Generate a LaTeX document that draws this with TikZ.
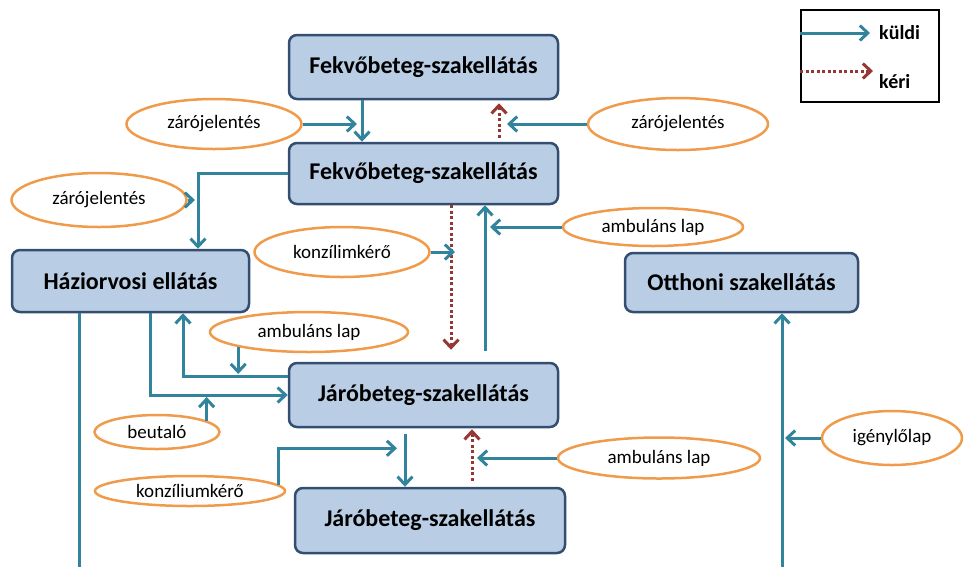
\documentclass[tikz,border=0pt]{standalone}
\usepackage{fontspec}
\setmainfont{Carlito}
\usetikzlibrary{arrows.meta,shapes.geometric}
\definecolor{kuldcol}{RGB}{49,132,155}
\definecolor{kercol}{RGB}{149,55,53}
\definecolor{boxfill}{RGB}{185,205,228}
\definecolor{boxline}{RGB}{52,78,114}
\definecolor{lapline}{RGB}{240,155,75}

\begin{document}
\begin{tikzpicture}[x=1pt,y=-1pt,>={Straight Barb[length=8pt,width=15pt]},
  box/.style={draw=boxline,fill=boxfill,line width=2.5pt,rounded corners=8pt,inner sep=0pt,font=\bfseries\fontsize{24}{28}\selectfont},
  lap/.style={ellipse,draw=lapline,fill=white,line width=2.5pt,inner sep=0pt,font=\fontsize{19}{22}\selectfont},
  kuld/.style={->,draw=kuldcol,line width=3pt},
  ker/.style={->,draw=kercol,line width=3pt,dash pattern=on 3pt off 2.5pt}]
  \useasboundingbox (0,0) rectangle (965,566);
  \node[box,minimum width=269,minimum height=64] (fekvoA) at (423.5,67) {Fekvőbeteg-szakellátás};
  \node[box,minimum width=269,minimum height=61] (fekvoB) at (423.5,173.5) {Fekvőbeteg-szakellátás};
  \node[box,minimum width=237,minimum height=62] (haziorvos) at (130.5,281) {Háziorvosi ellátás};
  \node[box,minimum width=269,minimum height=64] (jaroA) at (423.5,395) {Járóbeteg-szakellátás};
  \node[box,minimum width=270,minimum height=65] (jaroB) at (430,520.5) {Járóbeteg-szakellátás};
  \node[box,minimum width=233,minimum height=59] (otthoni) at (741.5,282.5) {Otthoni szakellátás};
  \node[lap,minimum width=175,minimum height=50] (zarA) at (214,124) {zárójelentés};
  \node[lap,minimum width=180,minimum height=52] (zarB) at (678,124) {zárójelentés};
  \node[lap,minimum width=175,minimum height=54] (zarC) at (99,200) {zárójelentés};
  \node[lap,minimum width=175,minimum height=50] (konzA) at (342,252) {konzílimkérő};
  \node[lap,minimum width=180,minimum height=38] (ambA) at (653,227) {ambuláns lap};
  \node[lap,minimum width=198,minimum height=40] (ambB) at (309,332) {ambuláns lap};
  \node[lap,minimum width=125,minimum height=34] (beut) at (157,432) {beutaló};
  \node[lap,minimum width=190,minimum height=30] (konzB) at (190,491) {konzíliumkérő};
  \node[lap,minimum width=202,minimum height=41] (ambC) at (659,458) {ambuláns lap};
  \node[lap,minimum width=140,minimum height=54] (igeny) at (892,438) {igénylőlap};
  \node[draw=black,line width=1.2pt,minimum width=138,minimum height=92,inner sep=0pt] (legend) at (870,56) {};
  \node[anchor=west,inner sep=1pt,font=\bfseries\fontsize{20}{24}\selectfont] (kuldi) at (878,33) {küldi};
  \node[anchor=west,inner sep=1pt,font=\bfseries\fontsize{20}{24}\selectfont] (keri) at (878,82) {kéri};
  \coordinate (kerimark) at ([yshift=11pt]keri.west);
  \draw[kuld,shorten >=8pt] (legend.west |- kuldi) -- (kuldi.west);
  \draw[ker,shorten >=5pt] (legend.west |- kerimark) -- (kerimark);
  \coordinate (fA) at ([xshift=-61.5pt]fekvoB.north);
  \draw[kuld] ([xshift=-61.5pt]fekvoA.south) -- (fA);
  \draw[kuld,shorten >=5pt] (zarA.east) -- (zarA.east -| fA);
  \coordinate (rB) at ([xshift=75.5pt]fekvoB.north);
  \draw[ker,shorten <=4pt,shorten >=3pt] (rB) -- ([xshift=75.5pt]fekvoA.south);
  \draw[kuld,shorten >=8pt] (zarB.west) -- (zarB.west -| rB);
  \coordinate (hN) at ([xshift=67.5pt]haziorvos.north);
  \draw[kuld] (fekvoB.west) -| (hN);
  \draw[kuld,shorten >=3pt] (zarC.east) -- (zarC.east -| hN);
  \coordinate (rC) at ([xshift=27.5pt]fekvoB.south);
  \draw[ker,shorten >=12pt] (rC) -- ([xshift=27.5pt]jaroA.north);
  \draw[kuld,shorten >=-4pt] (konzA.east) -- (konzA.east -| rC);
  \coordinate (kC) at ([xshift=61.5pt]fekvoB.south);
  \draw[kuld,shorten <=11pt] ([xshift=61.5pt]jaroA.north) -- (kC);
  \draw[kuld,shorten >=5pt] (ambA.west) -- (ambA.west -| kC);
  \coordinate (jL) at ([yshift=19pt]jaroA.west);
  \draw[kuld] (jL) -| ([xshift=52.5pt]haziorvos.south);
  \draw[kuld,shorten >=2pt] (ambB.192) -- (ambB.192 |- jL);
  \draw[kuld] ([xshift=19.5pt]haziorvos.south) |- (jaroA.west);
  \draw[kuld,shorten >=2pt] (beut.13) -- (beut.13 |- jaroA.west);
  \coordinate (jS) at ([xshift=-18.5pt]jaroA.south);
  \coordinate (jT) at ([yshift=-20pt]jS);
  \draw[kuld,shorten <=6pt] (jS) -- (jS |- jaroB.north);
  \draw[kuld,shorten >=8pt] (konzB.4) |- (jT);
  \coordinate (jR) at ([xshift=48.5pt]jaroA.south);
  \draw[ker,shorten <=6pt,shorten >=1pt] (jR |- jaroB.north) -- (jR);
  \draw[kuld,shorten >=5pt] (ambC.west) -- (ambC.west -| jR);
  \coordinate (oS) at ([xshift=40.5pt]otthoni.south);
  \coordinate (alja) at (430,574);
  \draw[kuld] ([xshift=-51.5pt]haziorvos.south) |- (alja) -| (oS);
  \draw[kuld,shorten >=3pt] (igeny.west) -- (igeny.west -| oS);
\end{tikzpicture}
\end{document}
